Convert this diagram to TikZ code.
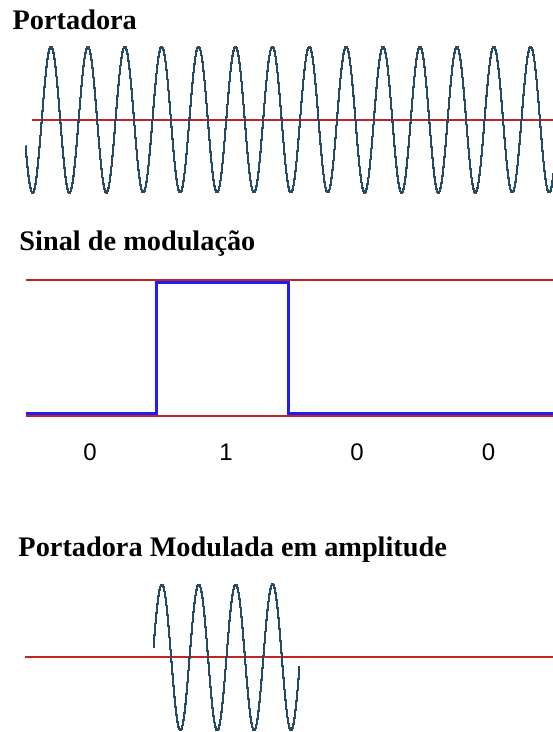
\documentclass[tikz,border=0pt]{standalone}
\usepackage{fontspec}
\setmainfont{Liberation Serif}
\newfontfamily\digitfont{Liberation Sans}
\definecolor{wavecol}{RGB}{40,75,100}
\definecolor{linecol}{RGB}{195,35,35}
\definecolor{pulsecol}{RGB}{30,30,245}
\begin{document}
\begin{tikzpicture}[x=1pt,y=-1pt,
            title/.style={anchor=base west, inner sep=0pt, font=\fontsize{28.3}{32}\selectfont\bfseries},
            bit/.style={inner sep=0pt, font=\digitfont\fontsize{24}{28}\selectfont},
            carrier/.style={wavecol, line width=1.7pt},
            refline/.style={linecol, line width=1.9pt},
            pulse/.style={pulsecol, line width=3pt}
            ]
            \useasboundingbox (0,0) rectangle (553,732);
            \fill[white] (0,0) rectangle (553,732);

            % carrier
            \node[title] (tCar) at (12.5,29.3) {Portadora};
            \draw[refline] (32,119.7) -- (553,119.7);
            \draw[carrier] plot[const plot mark mid, domain=25.5:554.5, samples=530]
                (\x, {119.7-73*cos(9.7561*(\x-51))});

            % modulating signal
            \node[title] (tSig) at (19.3,250) {Sinal de modulação};
            \draw[refline, line width=1.8pt] (26,279.6) -- (553,279.6);
            \draw[refline, line width=1.6pt] (26,416) -- (553,416);
            \draw[pulse] (26,413.5) -- (156.7,413.5) -- (156.7,282) -- (288.3,282)
                -- (288.3,413.5) -- (553,413.5);

            \node[bit] (b1) at (90,452.5) {0};
            \node[bit] (b2) at (226,452.5) {1};
            \node[bit] (b3) at (357,452.5) {0};
            \node[bit] (b4) at (488.5,452.5) {0};

            % modulated carrier
            \node[title] (tMod) at (18.3,556) {Portadora Modulada em amplitude};
            \draw[refline] (25,657.3) -- (553,657.3);
            \draw[carrier] plot[const plot mark mid, domain=153.3:299.3, samples=147]
                (\x, {657.3-73*cos(9.7561*(\x-51))});

            \end{tikzpicture}
\end{document}
